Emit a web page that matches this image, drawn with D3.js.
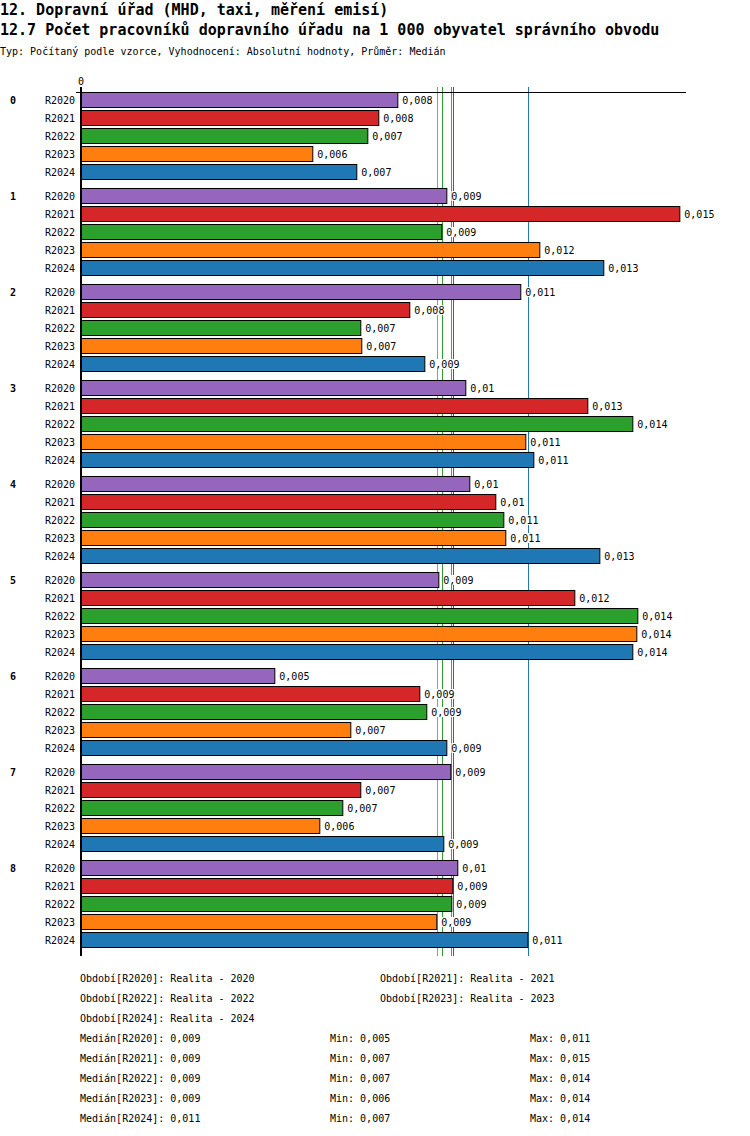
<!DOCTYPE html>
<html>
<head>
<meta charset="utf-8">
<script src="https://cdn.jsdelivr.net/npm/d3@7"></script>
<style>
  html, body { margin: 0; padding: 0; background: #fff; }
  svg { display: block; }
  text { font-family: "DejaVu Sans Mono", "Liberation Mono", monospace; fill: #000; }
</style>
</head>
<body>
<svg id="chart" width="750" height="1136"></svg>
<script>
// ---- data ----
const groups = ["0", "1", "2", "3", "4", "5", "6", "7", "8"];
const series = ["R2020", "R2021", "R2022", "R2023", "R2024"];
const colors = ["#9467bd", "#d62728", "#2ca02c", "#ff7f0e", "#1f77b4"];
const periodNames = ["Realita - 2020", "Realita - 2021", "Realita - 2022", "Realita - 2023", "Realita - 2024"];
const r2020 = [0.008005, 0.009241, 0.011107, 0.009720, 0.009821, 0.009039, 0.004902, 0.009342, 0.009518];
const r2021 = [0.007525, 0.015119, 0.008307, 0.012798, 0.010477, 0.012470, 0.008560, 0.007071, 0.009392];
const r2022 = [0.007248, 0.009114, 0.007071, 0.013933, 0.010679, 0.014059, 0.008736, 0.006617, 0.009367];
const r2023 = [0.005860, 0.011587, 0.007096, 0.011234, 0.010729, 0.014034, 0.006819, 0.006037, 0.008988];
const r2024 = [0.006970, 0.013201, 0.008686, 0.011436, 0.013101, 0.013933, 0.009241, 0.009165, 0.011284];
const values = [r2020, r2021, r2022, r2023, r2024];
const title1 = "12. Dopravní úřad (MHD, taxi, měření emisí)";
const title2 = "12.7 Počet pracovníků dopravního úřadu na 1 000 obyvatel správního obvodu";
const subtitle = "Typ: Počítaný podle vzorce, Vyhodnocení: Absolutní hodnoty, Průměr: Medián";

// ---- helpers ----
const loc = d3.formatLocale({decimal: ",", thousands: " ", grouping: [3], currency: ["", ""]});
const fmt = loc.format(".3~f");

const svg = d3.select("#chart");

// titles
svg.append("text").attr("x", 0).attr("y", 15).attr("font-size", 15).attr("font-weight", "bold").text(title1);
svg.append("text").attr("x", 0).attr("y", 35).attr("font-size", 15).attr("font-weight", "bold").text(title2);
svg.append("text").attr("x", 0).attr("y", 55).attr("font-size", 10).text(subtitle);

// scales
const x = d3.scaleLinear().domain([0, 0.015262]).range([81, 686]);
const yG = d3.scaleBand().domain(groups).range([92, 956]);
const yS = d3.scaleBand().domain(series).range([0, 88]).paddingInner(1 / 9);

// median lines (behind bars)
const medians = values.map(v => d3.median(v));
svg.append("g").selectAll("line").data(medians).join("line")
  .attr("x1", d => Math.round(x(d)) + 0.5).attr("x2", d => Math.round(x(d)) + 0.5)
  .attr("y1", 87).attr("y2", 956)
  .attr("stroke", (d, i) => colors[i]).attr("stroke-width", 1);

// top axis line and tick
svg.append("line").attr("x1", 76).attr("x2", 686).attr("y1", 92.5).attr("y2", 92.5)
  .attr("stroke", "#000").attr("stroke-width", 1);
svg.append("text").attr("x", x(0)).attr("y", 85).attr("font-size", 10).attr("text-anchor", "middle").text("0");

// bars
const rows = [];
groups.forEach((g, gi) => {
  series.forEach((s, si) => rows.push({g, s, si, v: values[si][gi]}));
});

const bars = svg.append("g");
bars.selectAll("rect").data(rows).join("rect")
  .attr("x", x(0) + 0.5)
  .attr("y", d => yG(d.g) + yS(d.s) + 0.5)
  .attr("width", d => x(d.v) - x(0) - 1)
  .attr("height", yS.bandwidth() - 1)
  .attr("fill", d => colors[d.si])
  .attr("stroke", "#000").attr("stroke-width", 1);

// value labels with white background
const labG = svg.append("g");
const labs = labG.selectAll("g").data(rows).join("g")
  .attr("transform", d => `translate(${x(d.v) + 4},${yG(d.g) + yS(d.s) + yS.bandwidth() / 2})`);
labs.append("rect").attr("class", "bg").attr("fill", "#fff");
labs.append("text")
  .attr("dy", "0.35em")
  .attr("font-size", 10)
  .text(d => fmt(d.v));
labs.each(function () {
  const g = d3.select(this);
  const bb = g.select("text").node().getBBox();
  g.select("rect").attr("x", bb.x).attr("y", -5).attr("width", bb.width).attr("height", 10);
});

// series labels
svg.append("g").selectAll("text").data(rows).join("text")
  .attr("x", 75)
  .attr("y", d => yG(d.g) + yS(d.s) + yS.bandwidth() / 2)
  .attr("dy", "0.35em")
  .attr("font-size", 10)
  .attr("text-anchor", "end")
  .text(d => d.s);

// group labels
svg.append("g").selectAll("text").data(groups).join("text")
  .attr("x", 10)
  .attr("y", d => yG(d) + yS(series[0]) + yS.bandwidth() / 2)
  .attr("dy", "0.35em")
  .attr("font-size", 10)
  .attr("font-weight", "bold")
  .text(d => d);

// vertical axis
svg.append("line").attr("x1", 81).attr("x2", 81).attr("y1", 87).attr("y2", 956)
  .attr("stroke", "#000").attr("stroke-width", 2);

// footer
const foot = svg.append("g");
series.forEach((s, i) => {
  const row = Math.floor(i / 2);
  const col = i % 2;
  foot.append("text").attr("x", col ? 380 : 80).attr("y", 982 + row * 20)
    .attr("font-size", 10).text(`Období[${s}]: ${periodNames[i]}`);
});
series.forEach((s, i) => {
  const y = 1042 + i * 20;
  foot.append("text").attr("x", 80).attr("y", y).attr("font-size", 10).text(`Medián[${s}]: ${fmt(medians[i])}`);
  foot.append("text").attr("x", 330).attr("y", y).attr("font-size", 10).text(`Min: ${fmt(d3.min(values[i]))}`);
  foot.append("text").attr("x", 530).attr("y", y).attr("font-size", 10).text(`Max: ${fmt(d3.max(values[i]))}`);
});
</script>
</body>
</html>
